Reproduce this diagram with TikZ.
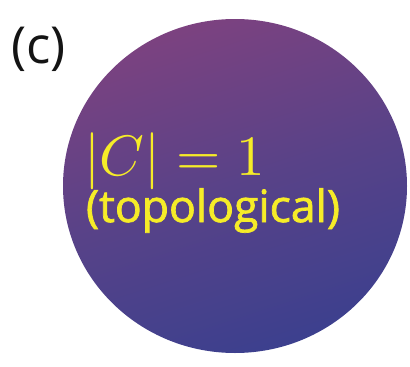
\documentclass[tikz,border=0pt]{standalone}
\usepackage{fontspec}
\setsansfont{Open Sans}
\newfontfamily\heavysans[FakeBold=1.6]{Open Sans}
\definecolor{discTop}{RGB}{124,66,128}
\definecolor{discMid}{RGB}{88,66,136}
\definecolor{discBot}{RGB}{60,64,142}
\definecolor{labelYellow}{RGB}{246,236,40}
\definecolor{panelInk}{RGB}{20,20,20}
\tikzset{
  txt/.style={inner sep=0pt, outer sep=0pt, anchor=base west},
}
\begin{document}
\begin{tikzpicture}[x=1pt,y=-1pt]
\useasboundingbox (0,0) rectangle (410,367);
\shade[top color=discTop, bottom color=discBot, middle color=discMid, shading angle=18]
  (235,186) ellipse [x radius=172, y radius=167];
\node[txt, text=panelInk, font=\sffamily\fontsize{51}{55}\selectfont] (panel) at (11,63) {(c)};
\node[txt, text=labelYellow] (chern) at (84,175) {\scalebox{5.7}{$|C| = 1$}};
\node[txt, text=labelYellow, font=\heavysans\fontsize{44.5}{48}\selectfont] (topo) at (86,222) {(topological)};
\end{tikzpicture}
\end{document}
